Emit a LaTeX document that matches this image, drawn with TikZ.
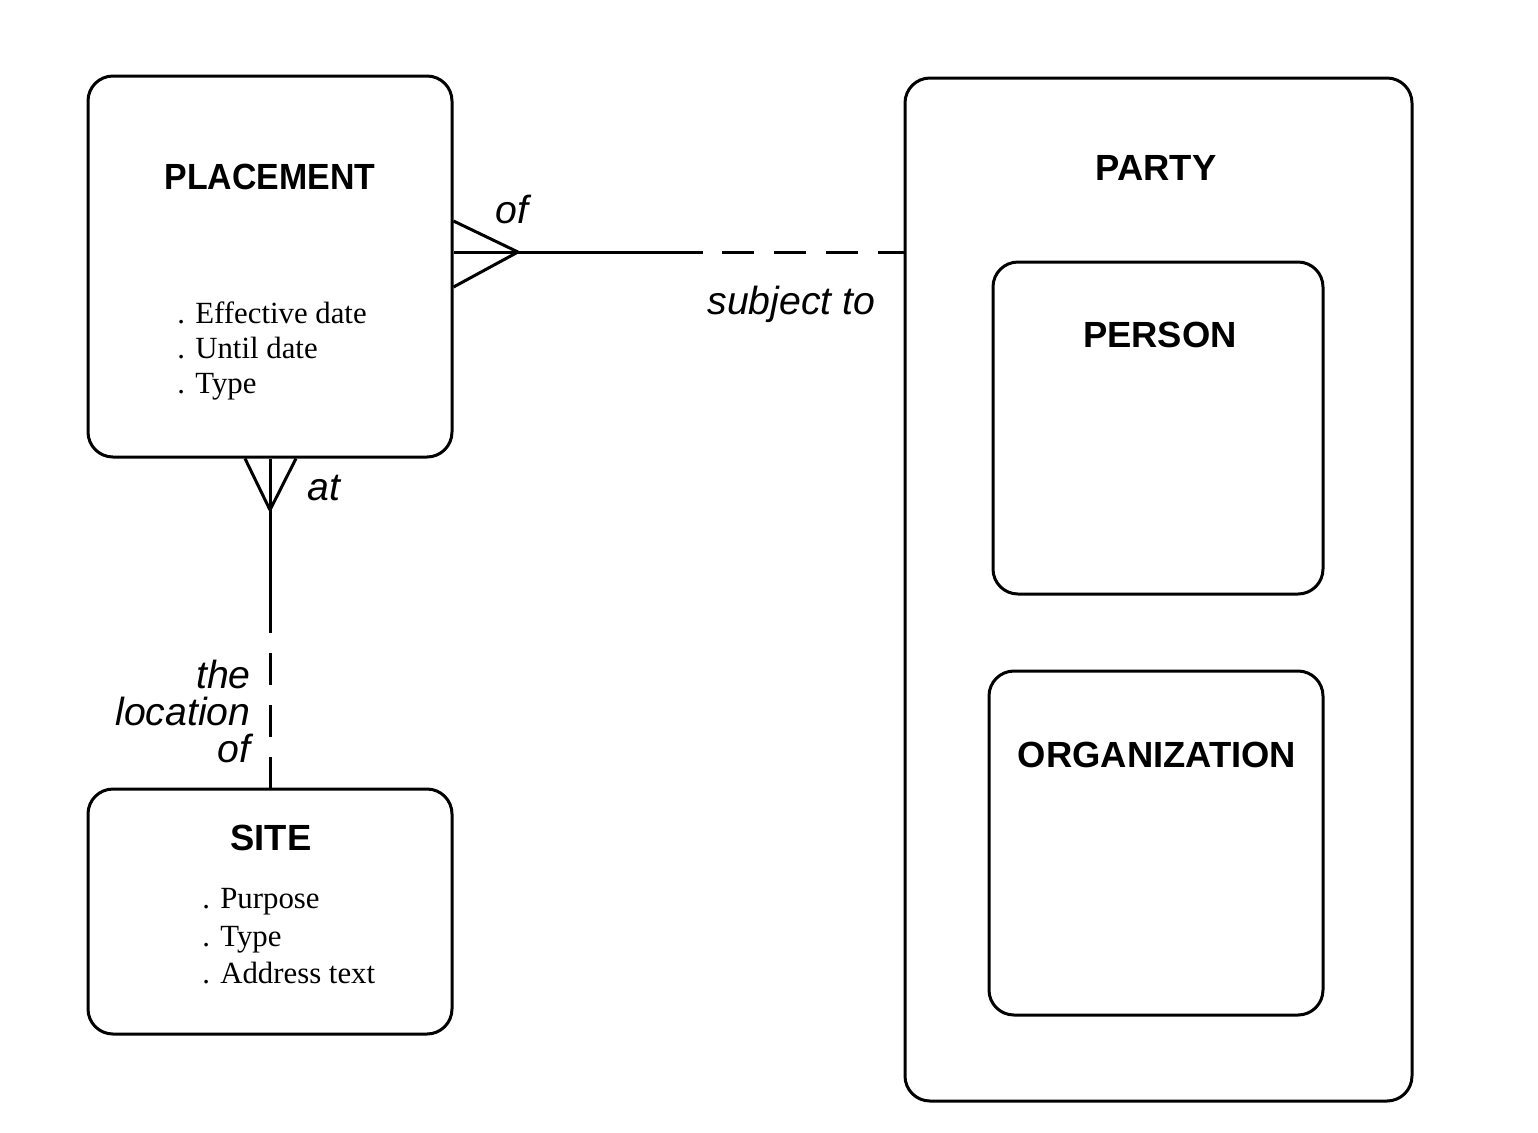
\documentclass[tikz,border=0pt]{standalone}
\usepackage{fontspec}
\setmainfont{Liberation Serif}
\setsansfont{Liberation Sans}
\begin{document}
\begin{tikzpicture}[x=0.5pt,y=-0.5pt,
  box/.style={draw,line width=1.5pt,rounded corners=12.5pt,inner sep=0pt},
  title/.style={font=\sffamily\bfseries\fontsize{18.2}{21}\selectfont,inner sep=0pt},
  attr/.style={font=\fontsize{15.4}{18}\selectfont,inner sep=0pt,anchor=base west},
  lbl/.style={font=\sffamily\itshape\fontsize{19.6}{22}\selectfont,inner sep=0pt},
  rel/.style={line width=1.5pt},
  reldash/.style={line width=1.5pt,dash pattern=on 16pt off 10pt}]
\useasboundingbox (0,0) rectangle (1538,1132);

% entity boxes
\node[box,minimum width=182pt,minimum height=190.5pt] (placement) at (270,266.5) {};
\node[box,minimum width=182pt,minimum height=122.5pt] (site) at (270,911.5) {};
\node[box,minimum width=253.5pt,minimum height=511.5pt] (party) at (1158.5,589.5) {};
\node[box,minimum width=165pt,minimum height=166pt] (person) at (1158,428) {};
\node[box,minimum width=167pt,minimum height=172pt] (org) at (1156,843) {};

% entity names
\node[title] (placementname) at (270,176.5) {\scalebox{0.93}[1]{PLACEMENT}};
\node[title] (sitename) at (271,838) {SITE};
\node[title] (partyname) at (1156,168) {PARTY};
\node[title] (personname) at (1160,335) {PERSON};
\node[title] (orgname) at (1157,755) {ORGANIZATION};

% attributes
\node[attr] (pa1) at (177,323) {. Effective date};
\node[attr] (pa2) at (177,358) {. Until date};
\node[attr] (pa3) at (177,393) {. Type};
\node[attr] (sa1) at (202,908) {. Purpose};
\node[attr] (sa2) at (202,946) {. Type};
\node[attr] (sa3) at (202,983) {. Address text};

% PLACEMENT -- PARTY relationship
\coordinate (oftip) at (518,252);
\coordinate (ofbreak) at (703,252);
\draw[rel] (oftip) -- (placement.east |- 0,221);
\draw[rel] (oftip) -- (placement.east |- oftip);
\draw[rel] (oftip) -- (placement.east |- 0,287);
\draw[rel] (oftip) -- (ofbreak);
\draw[reldash,dash phase=16.5pt] (ofbreak) -- (party.west |- oftip);
\node[lbl,anchor=base west] (oflbl) at (495,223) {of};
\node[lbl,anchor=base west] (subjlbl) at (707,314) {subject to};

% PLACEMENT -- SITE relationship
\coordinate (attip) at (270,510);
\coordinate (atbreak) at (270,633);
\draw[rel] (attip) -- (245,0 |- placement.south);
\draw[rel] (attip) -- (placement.south);
\draw[rel] (attip) -- (296,0 |- placement.south);
\draw[rel] (attip) -- (atbreak);
\draw[reldash,dash phase=16pt] (atbreak) -- (site.north);
\node[lbl,anchor=base west] (atlbl) at (307,500) {at};
\node[lbl,anchor=base east] (loc1) at (251,688) {the};
\node[lbl,anchor=base east] (loc2) at (251,725) {location};
\node[lbl,anchor=base east] (loc3) at (251,762) {of};
\end{tikzpicture}
\end{document}
